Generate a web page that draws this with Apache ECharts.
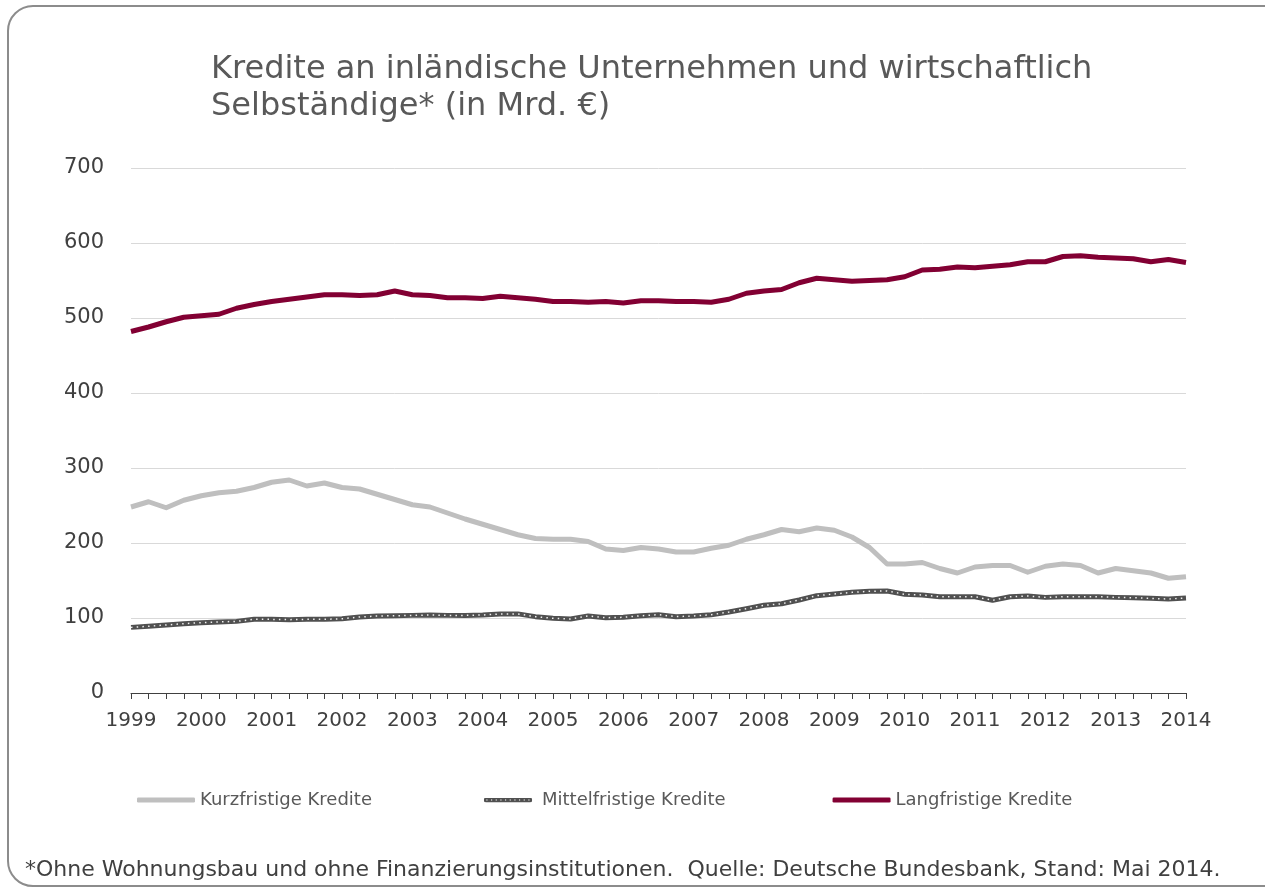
<!DOCTYPE html>
<html>
<head>
<meta charset="utf-8">
<title>Kredite an inländische Unternehmen</title>
<script src="https://cdn.jsdelivr.net/npm/echarts@6/dist/echarts.min.js"></script>
<style>
  html, body { margin: 0; padding: 0; background: #fff; }
  #chart { width: 1265px; height: 887px; }
</style>
</head>
<body>
<div id="chart"></div>
<script>
// Quartalswerte 1999 Q1 bis 2014 Q1 (in Mrd. €)
const years = ['1999', '2000', '2001', '2002', '2003', '2004', '2005', '2006',
  '2007', '2008', '2009', '2010', '2011', '2012', '2013', '2014']
const quarters = []
for (const y of years) {
  for (let q = 1; q <= 4; q++) {
    if (y === '2014' && q > 1) break
    quarters.push(y + ' Q' + q)
  }
}

const kurzfristig = [248, 255, 247, 257, 263, 267, 269, 274, 281, 284, 276, 280, 274, 272, 265, 258,
  251, 248, 240, 232, 225, 218, 211, 206, 205, 205, 202, 192, 190, 194, 192, 188,
  188, 193, 197, 205, 211, 218, 215, 220, 217, 208, 194, 172, 172, 174, 166, 160,
  168, 170, 170, 161, 169, 172, 170, 160, 166, 163, 160, 153, 155]

const mittelfristig = [87.5, 89, 90.7, 92.4, 93.8, 94.7, 95.5, 98.2, 98.2, 97.8, 98.2, 98.2, 99, 101.3, 102.7, 103,
  103.5, 104, 103.5, 103.5, 104, 105.3, 105.5, 101.8, 99.6, 98.7, 102.7, 100.4, 100.9, 103, 104.4, 101.8,
  102.7, 104.4, 108, 112.4, 116.9, 119, 124, 129.8, 132, 134.2, 135.6, 136, 131.6, 130.7, 128.4, 128.4,
  128.4, 123.6, 128.4, 129.3, 127.5, 128.4, 128.4, 128.4, 127.5, 127, 126.2, 125.3, 126.7]

const langfristig = [482, 488, 495, 501, 503, 505, 513, 518, 522, 525, 528, 531, 531, 530, 531, 536,
  531, 530, 527, 527, 526, 529, 527, 525, 522, 522, 521, 522, 520, 523, 523, 522,
  522, 521, 525, 533, 536, 538, 547, 553, 551, 549, 550, 551, 555, 564, 565, 568,
  567, 569, 571, 575, 575, 582, 583, 581, 580, 579, 575, 578, 574]

const fontFamily = '"DejaVu Sans", Verdana, sans-serif'

// Legendensymbol für die gepunktete Linie
const dottedSvg = '<svg xmlns="http://www.w3.org/2000/svg" width="58" height="6">' +
  '<rect x="0" y="0" width="58" height="6" rx="3" fill="#505050"/>' +
  '<line x1="3" y1="3" x2="56" y2="3" stroke="#ffffff" stroke-width="1.4" stroke-dasharray="1.4 4.2"/></svg>'
const dottedIcon = 'image://data:image/svg+xml;charset=utf-8,' + encodeURIComponent(dottedSvg)

const chart = echarts.init(document.getElementById('chart'))
const option = {
  backgroundColor: '#fff',
  animation: false,
  textStyle: { fontFamily: fontFamily },
  title: {
    text: 'Kredite an inländische Unternehmen und wirtschaftlich\nSelbständige* (in Mrd. €)',
    left: 206,
    top: 46,
    textStyle: {
      fontFamily: fontFamily,
      fontSize: 32,
      fontWeight: 'normal',
      lineHeight: 37,
      color: '#595959',
    },
  },
  graphic: [
    {
      type: 'rect',
      shape: { x: 8, y: 6, width: 1292, height: 880, r: 25 },
      style: { fill: 'none', stroke: '#8c8c8c', lineWidth: 2 },
      silent: true,
    },
    {
      type: 'text',
      left: 25,
      top: 859,
      style: {
        text: '*Ohne Wohnungsbau und ohne Finanzierungsinstitutionen.  Quelle: Deutsche Bundesbank, Stand: Mai 2014.',
        font: '22px ' + fontFamily,
        fill: '#404040',
      },
    },
  ],
  legend: {
    left: 132,
    top: 786,
    itemWidth: 58,
    itemHeight: 5,
    itemGap: 107,
    selectedMode: false,
    textStyle: { fontFamily: fontFamily, fontSize: 18, color: '#595959' },
    data: [
      { name: 'Kurzfristige Kredite', icon: 'roundRect' },
      { name: 'Mittelfristige Kredite', icon: dottedIcon },
      { name: 'Langfristige Kredite', icon: 'roundRect' },
    ],
  },
  grid: {
    left: 131,
    right: 79,
    top: 168,
    bottom: 194,
  },
  xAxis: {
    type: 'category',
    boundaryGap: false,
    data: quarters,
    axisLine: { lineStyle: { color: '#404040', width: 1 } },
    axisTick: { interval: 0, length: 6, lineStyle: { color: '#404040' } },
    axisLabel: {
      interval: 3,
      margin: 18,
      fontSize: 20,
      color: '#404040',
      formatter: (v) => v.slice(0, 4),
    },
    splitLine: { show: false },
  },
  yAxis: {
    type: 'value',
    min: 0,
    max: 700,
    interval: 100,
    axisLine: { show: false },
    axisTick: { show: false },
    axisLabel: { fontSize: 21, color: '#404040', margin: 27 },
    splitLine: { lineStyle: { color: '#d9d9d9', width: 1 } },
  },
  series: [
    {
      name: 'Kurzfristige Kredite',
      type: 'line',
      data: kurzfristig,
      showSymbol: false,
      color: '#bfbfbf',
      lineStyle: { color: '#bfbfbf', width: 5, join: 'round' },
    },
    {
      name: 'Mittelfristige Kredite',
      type: 'line',
      data: mittelfristig,
      showSymbol: false,
      color: '#505050',
      lineStyle: { color: '#505050', width: 5, join: 'round' },
    },
    {
      // weiße Punkte auf der Mittelfristig-Linie
      name: 'mittel-punkte',
      type: 'line',
      data: mittelfristig,
      showSymbol: false,
      silent: true,
      lineStyle: { color: '#f0f0f0', width: 1.5, type: [1.5, 4.2] },
    },
    {
      name: 'Langfristige Kredite',
      type: 'line',
      data: langfristig,
      showSymbol: false,
      color: '#820033',
      lineStyle: { color: '#820033', width: 5, join: 'round' },
    },
  ],
}
chart.setOption(option, true)
</script>
</body>
</html>
